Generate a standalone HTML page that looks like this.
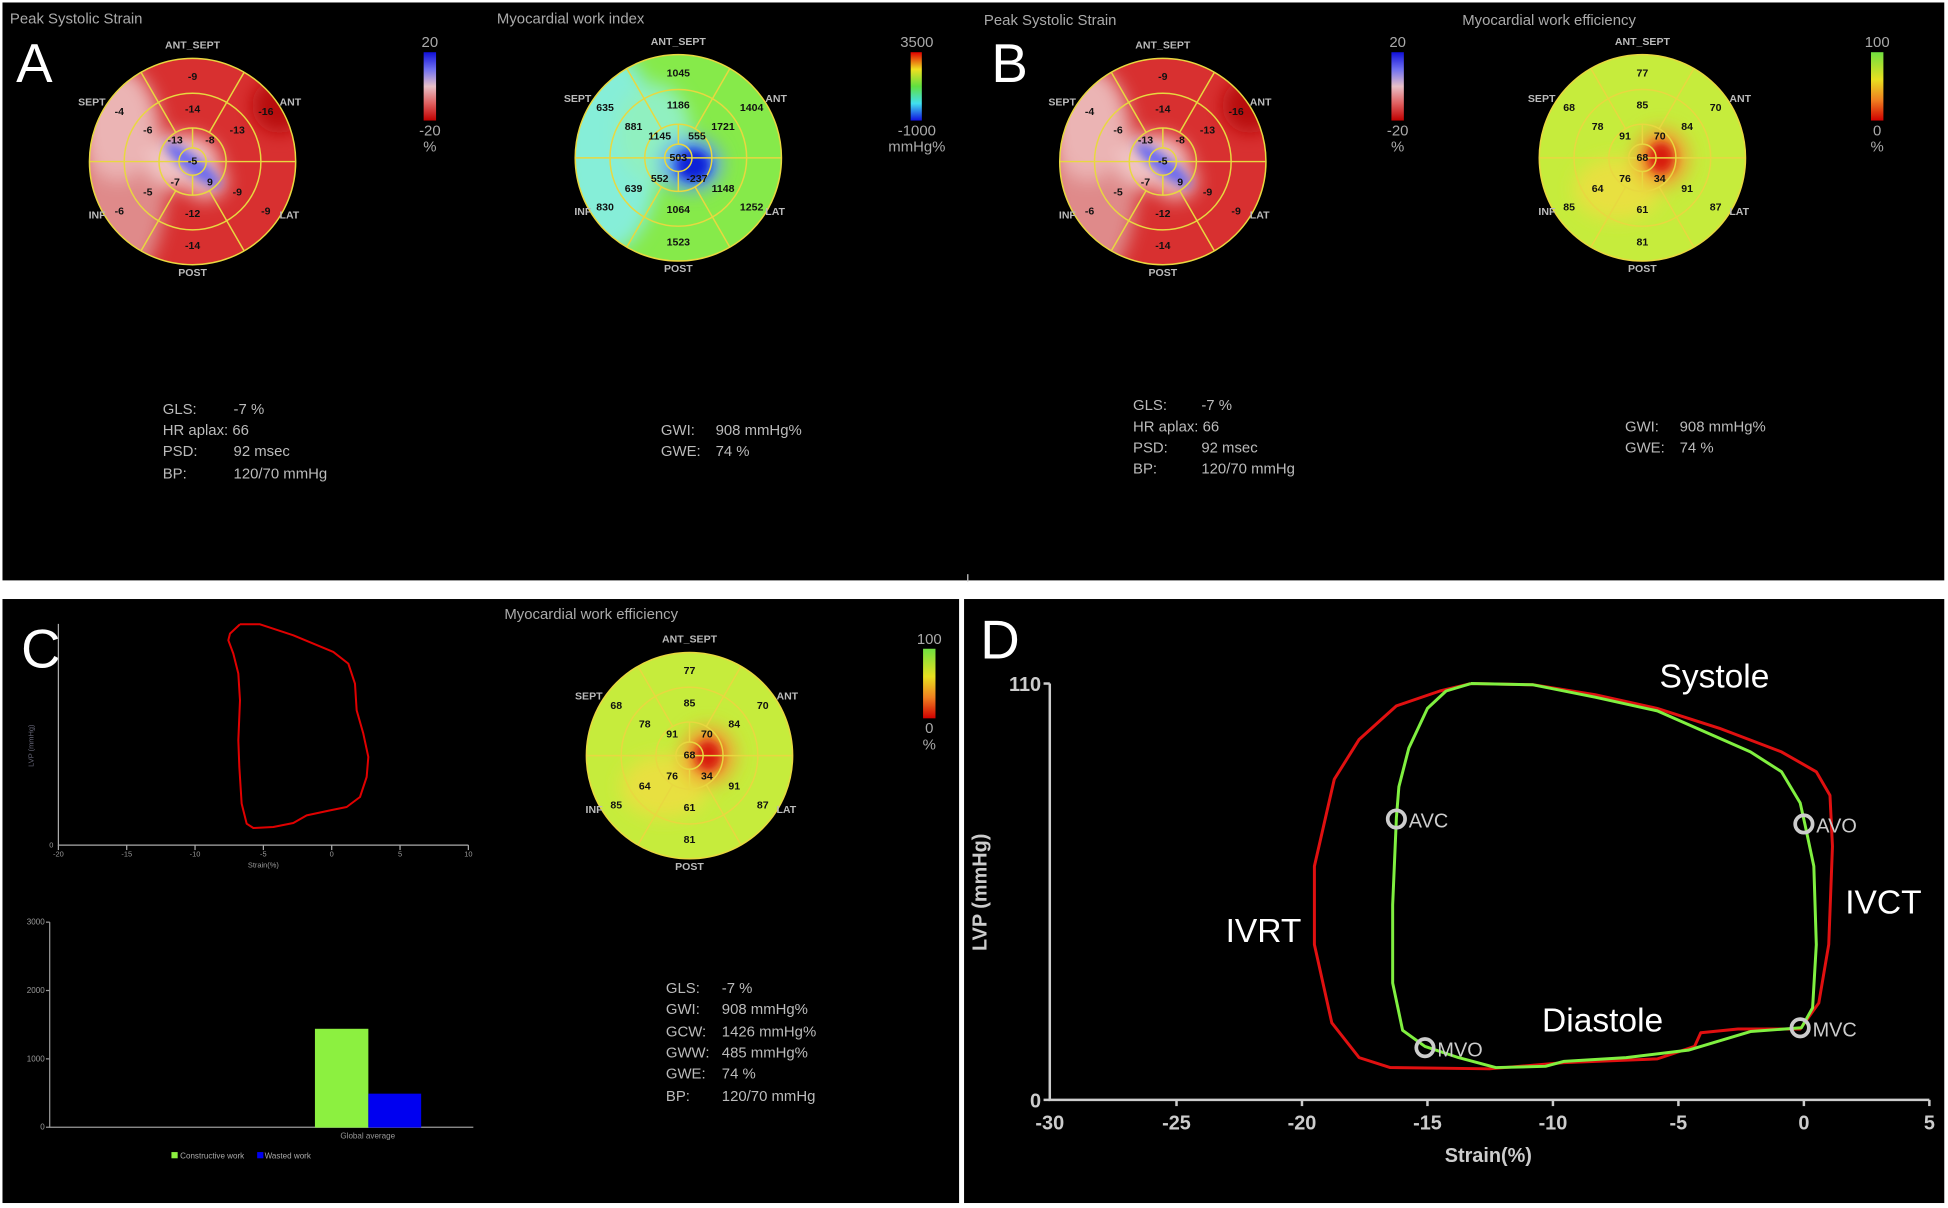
<!DOCTYPE html>
<html><head><meta charset="utf-8"><style>
html,body{margin:0;padding:0;background:#fff;}
svg{display:block;}
text{font-family:"Liberation Sans",Arial,sans-serif;}
.v{font-size:8.5px;font-weight:bold;fill:#111;text-anchor:middle;dominant-baseline:central;}
.lb{font-size:8.5px;font-weight:bold;fill:#bbb;}
.t{font-size:12px;fill:#aaa;}
.info{font-size:12px;fill:#bbb;}
.big{font-size:44px;fill:#fff;}
</style></head><body>
<svg width="1948" height="1208" viewBox="0 0 1568 972" preserveAspectRatio="none" xmlns="http://www.w3.org/2000/svg">
<defs>
<filter id="bl" x="-50%" y="-50%" width="200%" height="200%"><feGaussianBlur stdDeviation="7"/></filter>
<filter id="bl2" x="-50%" y="-50%" width="200%" height="200%"><feGaussianBlur stdDeviation="4"/></filter>
<clipPath id="cc"><circle cx="0" cy="0" r="83"/></clipPath>
<g id="grid" fill="none" stroke="#e8d840" stroke-width="1.2">
<circle r="83"/><circle r="55"/><circle r="27"/><circle r="11"/>
<line x1="-83" y1="0" x2="83" y2="0"/>
<line x1="13.5" y1="-23.4" x2="41.5" y2="-71.9"/><line x1="-13.5" y1="-23.4" x2="-41.5" y2="-71.9"/>
<line x1="13.5" y1="23.4" x2="41.5" y2="71.9"/><line x1="-13.5" y1="23.4" x2="-41.5" y2="71.9"/>
<line x1="0" y1="-11" x2="0" y2="-27"/><line x1="0" y1="11" x2="0" y2="27"/>
</g>
<g id="strainfill" clip-path="url(#cc)">
<rect x="-90" y="-90" width="180" height="180" fill="#d83030"/>
<g filter="url(#bl)">
<ellipse cx="-55" cy="10" rx="35" ry="85" fill="#df8a8a"/>
<ellipse cx="-60" cy="-30" rx="30" ry="45" fill="#ebb4b4"/>
<ellipse cx="70" cy="-45" rx="22" ry="22" fill="#b81010"/>
<ellipse cx="-8" cy="0" rx="30" ry="22" fill="#f0c4c4"/>
<ellipse cx="10" cy="15" rx="18" ry="16" fill="#eab0b0"/>
</g>
<g filter="url(#bl2)"><ellipse cx="2" cy="2" rx="28" ry="7" fill="#6a6af0" transform="rotate(38)"/></g>
</g>
<g id="workfill" clip-path="url(#cc)">
<rect x="-90" y="-90" width="180" height="180" fill="#86ea4a"/>
<g filter="url(#bl)">
<ellipse cx="-55" cy="-5" rx="40" ry="80" fill="#86eed8"/>
<ellipse cx="-20" cy="-20" rx="30" ry="40" fill="#90f0c0"/>
<ellipse cx="10" cy="5" rx="25" ry="22" fill="#60a0f0"/>
</g>
<g filter="url(#bl2)"><ellipse cx="12" cy="6" rx="14" ry="13" fill="#1020d8"/></g>
</g>
<g id="efffill" clip-path="url(#cc)">
<rect x="-90" y="-90" width="180" height="180" fill="#c6ec3c"/>
<g filter="url(#bl)">
<ellipse cx="-20" cy="25" rx="35" ry="25" fill="#e8e040"/>
<ellipse cx="15" cy="0" rx="22" ry="24" fill="#f0a030"/>
</g>
<g filter="url(#bl2)"><ellipse cx="15" cy="0" rx="11" ry="13" fill="#d81a10"/></g>
</g>
<linearGradient id="gs" x1="0" y1="0" x2="0" y2="1"><stop offset="0" stop-color="#1010d8"/><stop offset=".25" stop-color="#7070f0"/><stop offset=".5" stop-color="#e8c0c8"/><stop offset=".75" stop-color="#e06060"/><stop offset="1" stop-color="#c00000"/></linearGradient>
<linearGradient id="gw" x1="0" y1="0" x2="0" y2="1"><stop offset="0" stop-color="#e00000"/><stop offset=".25" stop-color="#f0e020"/><stop offset=".5" stop-color="#60e040"/><stop offset=".75" stop-color="#40e0f0"/><stop offset="1" stop-color="#1010e0"/></linearGradient>
<linearGradient id="ge" x1="0" y1="0" x2="0" y2="1"><stop offset="0" stop-color="#70e040"/><stop offset=".4" stop-color="#e8e020"/><stop offset=".7" stop-color="#f08020"/><stop offset="1" stop-color="#d00000"/></linearGradient>
<g id="labels">
<text class="lb" x="0" y="-91" text-anchor="middle">ANT_SEPT</text>
<text class="lb" x="0" y="92" text-anchor="middle">POST</text>
<text class="lb" x="-70" y="-45" text-anchor="end">SEPT</text>
<text class="lb" x="70" y="-45">ANT</text>
<text class="lb" x="-70" y="46" text-anchor="end">INF</text>
<text class="lb" x="70" y="46">LAT</text>
</g>
</defs>

<rect x="0" y="0" width="1568" height="972" fill="#fff"/>
<rect x="2" y="2" width="1563" height="465" fill="#000"/>
<rect x="2" y="482" width="770" height="486" fill="#000"/>
<rect x="776" y="482" width="789" height="486" fill="#000"/>
<line x1="779" y1="462" x2="779" y2="468" stroke="#ccc" stroke-width="1"/>

<!-- Panel A -->
<text class="t" x="8" y="19">Peak Systolic Strain</text>
<text class="t" x="400" y="19">Myocardial work index</text>
<text class="big" x="13" y="66">A</text>
<g transform="translate(155,130)">
<use href="#strainfill"/><use href="#grid"/><use href="#labels"/>
<text class="v" x="0" y="-68">-9</text><text class="v" x="59" y="-40">-16</text><text class="v" x="59" y="40">-9</text><text class="v" x="0" y="68">-14</text><text class="v" x="-59" y="40">-6</text><text class="v" x="-59" y="-40">-4</text>
<text class="v" x="0" y="-42">-14</text><text class="v" x="36" y="-25">-13</text><text class="v" x="36" y="25">-9</text><text class="v" x="0" y="42">-12</text><text class="v" x="-36" y="25">-5</text><text class="v" x="-36" y="-25">-6</text>
<text class="v" x="-14" y="-17">-13</text><text class="v" x="14" y="-17">-8</text><text class="v" x="14" y="17">9</text><text class="v" x="-14" y="17">-7</text><text class="v" x="0" y="0">-5</text>
</g>
<rect x="341" y="42" width="10" height="55" fill="url(#gs)"/>
<text class="t" x="346" y="38" text-anchor="middle">20</text>
<text class="t" x="346" y="109" text-anchor="middle">-20</text>
<text class="t" x="346" y="122" text-anchor="middle">%</text>

<g transform="translate(546,127)">
<use href="#workfill"/><use href="#grid"/><use href="#labels"/>
<text class="v" x="0" y="-68">1045</text><text class="v" x="59" y="-40">1404</text><text class="v" x="59" y="40">1252</text><text class="v" x="0" y="68">1523</text><text class="v" x="-59" y="40">830</text><text class="v" x="-59" y="-40">635</text>
<text class="v" x="0" y="-42">1186</text><text class="v" x="36" y="-25">1721</text><text class="v" x="36" y="25">1148</text><text class="v" x="0" y="42">1064</text><text class="v" x="-36" y="25">639</text><text class="v" x="-36" y="-25">881</text>
<text class="v" x="-15" y="-17">1145</text><text class="v" x="15" y="-17">555</text><text class="v" x="15" y="17">-237</text><text class="v" x="-15" y="17">552</text><text class="v" x="0" y="0">503</text>
</g>
<rect x="733" y="42" width="9" height="55" fill="url(#gw)"/>
<text class="t" x="738" y="38" text-anchor="middle">3500</text>
<text class="t" x="738" y="109" text-anchor="middle">-1000</text>
<text class="t" x="738" y="122" text-anchor="middle">mmHg%</text>

<g class="info">
<text class="info" x="131" y="333">GLS:</text><text class="info" x="188" y="333">-7 %</text>
<text class="info" x="131" y="350">HR aplax: 66</text>
<text class="info" x="131" y="367">PSD:</text><text class="info" x="188" y="367">92 msec</text>
<text class="info" x="131" y="385">BP:</text><text class="info" x="188" y="385">120/70 mmHg</text>
<text class="info" x="532" y="350">GWI:</text><text class="info" x="576" y="350">908 mmHg%</text>
<text class="info" x="532" y="367">GWE:</text><text class="info" x="576" y="367">74 %</text>
</g>

<!-- Panel B -->
<text class="t" x="792" y="20">Peak Systolic Strain</text>
<text class="t" x="1177" y="20">Myocardial work efficiency</text>
<text class="big" x="798" y="66">B</text>
<g transform="translate(936,130)">
<use href="#strainfill"/><use href="#grid"/><use href="#labels"/>
<text class="v" x="0" y="-68">-9</text><text class="v" x="59" y="-40">-16</text><text class="v" x="59" y="40">-9</text><text class="v" x="0" y="68">-14</text><text class="v" x="-59" y="40">-6</text><text class="v" x="-59" y="-40">-4</text>
<text class="v" x="0" y="-42">-14</text><text class="v" x="36" y="-25">-13</text><text class="v" x="36" y="25">-9</text><text class="v" x="0" y="42">-12</text><text class="v" x="-36" y="25">-5</text><text class="v" x="-36" y="-25">-6</text>
<text class="v" x="-14" y="-17">-13</text><text class="v" x="14" y="-17">-8</text><text class="v" x="14" y="17">9</text><text class="v" x="-14" y="17">-7</text><text class="v" x="0" y="0">-5</text>
</g>
<rect x="1120" y="42" width="10" height="55" fill="url(#gs)"/>
<text class="t" x="1125" y="38" text-anchor="middle">20</text>
<text class="t" x="1125" y="109" text-anchor="middle">-20</text>
<text class="t" x="1125" y="122" text-anchor="middle">%</text>
<g transform="translate(1322,127)">
<use href="#efffill"/><use href="#grid"/><use href="#labels"/>
<text class="v" x="0" y="-68">77</text><text class="v" x="59" y="-40">70</text><text class="v" x="59" y="40">87</text><text class="v" x="0" y="68">81</text><text class="v" x="-59" y="40">85</text><text class="v" x="-59" y="-40">68</text>
<text class="v" x="0" y="-42">85</text><text class="v" x="36" y="-25">84</text><text class="v" x="36" y="25">91</text><text class="v" x="0" y="42">61</text><text class="v" x="-36" y="25">64</text><text class="v" x="-36" y="-25">78</text>
<text class="v" x="-14" y="-17">91</text><text class="v" x="14" y="-17">70</text><text class="v" x="14" y="17">34</text><text class="v" x="-14" y="17">76</text><text class="v" x="0" y="0">68</text>
</g>
<rect x="1506" y="42" width="10" height="55" fill="url(#ge)"/>
<text class="t" x="1511" y="38" text-anchor="middle">100</text>
<text class="t" x="1511" y="109" text-anchor="middle">0</text>
<text class="t" x="1511" y="122" text-anchor="middle">%</text>
<text class="info" x="912" y="330">GLS:</text><text class="info" x="967" y="330">-7 %</text>
<text class="info" x="912" y="347">HR aplax: 66</text>
<text class="info" x="912" y="364">PSD:</text><text class="info" x="967" y="364">92 msec</text>
<text class="info" x="912" y="381">BP:</text><text class="info" x="967" y="381">120/70 mmHg</text>
<text class="info" x="1308" y="347">GWI:</text><text class="info" x="1352" y="347">908 mmHg%</text>
<text class="info" x="1308" y="364">GWE:</text><text class="info" x="1352" y="364">74 %</text>

<!-- Panel C -->
<text class="big" x="17" y="537">C</text>
<g stroke="#aaa" stroke-width="1" fill="none">
<polyline points="47,502 47,680 377,680"/>
<line x1="47" y1="680" x2="47" y2="684"/><line x1="102" y1="680" x2="102" y2="684"/><line x1="157" y1="680" x2="157" y2="684"/><line x1="212" y1="680" x2="212" y2="684"/><line x1="267" y1="680" x2="267" y2="684"/><line x1="322" y1="680" x2="322" y2="684"/><line x1="377" y1="680" x2="377" y2="684"/>
</g>
<g font-size="6" fill="#999" text-anchor="middle">
<text x="47" y="689">-20</text><text x="102" y="689">-15</text><text x="157" y="689">-10</text><text x="212" y="689">-5</text><text x="267" y="689">0</text><text x="322" y="689">5</text><text x="377" y="689">10</text>
<text x="212" y="698">Strain(%)</text>
<text x="43" y="682" text-anchor="end">0</text>
<text x="27" y="600" transform="rotate(-90 27 600)" fill="#667">LVP (mmHg)</text>
</g>
<polyline transform="translate(0,483) scale(0.2683)" fill="none" stroke="#e00000" stroke-width="6" stroke-linejoin="round" points="720,72 780,72 880,105 1000,155 1045,190 1065,250 1070,330 1090,400 1105,470 1100,530 1080,590 1040,620 990,630 920,645 880,668 820,680 760,683 740,670 725,610 718,500 715,420 720,300 715,220 700,160 685,120 690,100 720,72"/>

<g stroke="#999" stroke-width="1" fill="none">
<polyline points="40,742 40,907 381,907"/>
<line x1="37" y1="742" x2="40" y2="742"/><line x1="37" y1="797" x2="40" y2="797"/><line x1="37" y1="852" x2="40" y2="852"/><line x1="37" y1="907" x2="40" y2="907"/>
</g>
<g font-size="6.5" fill="#999">
<text x="36" y="744" text-anchor="end">3000</text><text x="36" y="799" text-anchor="end">2000</text><text x="36" y="854" text-anchor="end">1000</text><text x="36" y="909" text-anchor="end">0</text>
<text x="296" y="916" text-anchor="middle">Global average</text>
</g>
<rect x="253.5" y="827.8" width="43" height="79.5" fill="#8cf040"/>
<rect x="296.5" y="880" width="42.5" height="27.3" fill="#0000f0"/>
<rect x="138" y="927" width="5" height="5" fill="#8cf040"/>
<text x="145" y="932" font-size="6.5" fill="#aaa">Constructive work</text>
<rect x="207" y="927" width="5" height="5" fill="#0000f0"/>
<text x="213" y="932" font-size="6.5" fill="#aaa">Wasted work</text>

<text class="t" x="406" y="498">Myocardial work efficiency</text>
<g transform="translate(555,608)">
<use href="#efffill"/><use href="#grid"/><use href="#labels"/>
<text class="v" x="0" y="-68">77</text><text class="v" x="59" y="-40">70</text><text class="v" x="59" y="40">87</text><text class="v" x="0" y="68">81</text><text class="v" x="-59" y="40">85</text><text class="v" x="-59" y="-40">68</text>
<text class="v" x="0" y="-42">85</text><text class="v" x="36" y="-25">84</text><text class="v" x="36" y="25">91</text><text class="v" x="0" y="42">61</text><text class="v" x="-36" y="25">64</text><text class="v" x="-36" y="-25">78</text>
<text class="v" x="-14" y="-17">91</text><text class="v" x="14" y="-17">70</text><text class="v" x="14" y="17">34</text><text class="v" x="-14" y="17">76</text><text class="v" x="0" y="0">68</text>
</g>
<rect x="743" y="522" width="10" height="56" fill="url(#ge)"/>
<text class="t" x="748" y="518" text-anchor="middle">100</text>
<text class="t" x="748" y="590" text-anchor="middle">0</text>
<text class="t" x="748" y="603" text-anchor="middle">%</text>
<text class="info" x="536" y="799">GLS:</text><text class="info" x="581" y="799">-7 %</text>
<text class="info" x="536" y="816">GWI:</text><text class="info" x="581" y="816">908 mmHg%</text>
<text class="info" x="536" y="834">GCW:</text><text class="info" x="581" y="834">1426 mmHg%</text>
<text class="info" x="536" y="851">GWW:</text><text class="info" x="581" y="851">485 mmHg%</text>
<text class="info" x="536" y="868">GWE:</text><text class="info" x="581" y="868">74 %</text>
<text class="info" x="536" y="886">BP:</text><text class="info" x="581" y="886">120/70 mmHg</text>

<!-- Panel D -->
<text class="big" x="789" y="530">D</text>
<g stroke="#ccc" stroke-width="2" fill="none">
<polyline points="845,550 845,885 1553,885"/>
<line x1="840" y1="550" x2="845" y2="550"/><line x1="840" y1="885" x2="845" y2="885"/>
<line x1="947" y1="885" x2="947" y2="890"/><line x1="1048" y1="885" x2="1048" y2="890"/><line x1="1149" y1="885" x2="1149" y2="890"/><line x1="1250" y1="885" x2="1250" y2="890"/><line x1="1351" y1="885" x2="1351" y2="890"/><line x1="1452" y1="885" x2="1452" y2="890"/><line x1="1553" y1="885" x2="1553" y2="890"/>
</g>
<g font-size="16" font-weight="bold" fill="#ccc" text-anchor="middle">
<text x="845" y="909">-30</text><text x="947" y="909">-25</text><text x="1048" y="909">-20</text><text x="1149" y="909">-15</text><text x="1250" y="909">-10</text><text x="1351" y="909">-5</text><text x="1452" y="909">0</text><text x="1553" y="909">5</text>
<text x="1198" y="935">Strain(%)</text>
<text x="838" y="556" text-anchor="end">110</text>
<text x="838" y="891" text-anchor="end">0</text>
<text x="794" y="718" transform="rotate(-90 794 718)">LVP (mmHg)</text>
</g>
<polyline fill="none" stroke="#e01010" stroke-width="2.4" stroke-linejoin="round" points="1184,550 1234,551 1284,559 1334,570 1384,586 1434,605 1462,621 1473,640 1475,681 1472,760 1464,807 1449,828 1399,828 1369,831 1364,842 1334,852 1259,855 1199,860 1119,859 1094,851 1072,823 1058,760 1058,697 1074,627 1094,595 1124,568 1159,556 1184,550"/>
<polyline fill="none" stroke="#80f040" stroke-width="2.4" stroke-linejoin="round" points="1184,550 1164,556 1149,570 1134,602 1126,633 1124,658 1121,728 1121,791 1129,829 1147,842 1174,851 1204,859 1244,858 1259,854 1309,851 1359,845 1409,830 1450,827 1459,811 1462,760 1460,697 1453,664 1449,646 1434,621 1409,605 1334,572 1284,561 1234,551 1184,550"/>
<g fill="none" stroke="#ccc" stroke-width="3">
<circle cx="1124" cy="659" r="7"/><circle cx="1452" cy="663" r="7"/><circle cx="1449" cy="827" r="7"/><circle cx="1147" cy="843" r="7"/>
</g>
<g font-size="16" fill="#ccc">
<text x="1134" y="666">AVC</text><text x="1462" y="670">AVO</text><text x="1459" y="834">MVC</text><text x="1157" y="850">MVO</text>
</g>
<g font-size="27" fill="#fff" text-anchor="middle">
<text x="1380" y="553">Systole</text>
<text x="1516" y="735">IVCT</text>
<text x="1017" y="758">IVRT</text>
<text x="1290" y="830">Diastole</text>
</g>
</svg>
</body></html>
